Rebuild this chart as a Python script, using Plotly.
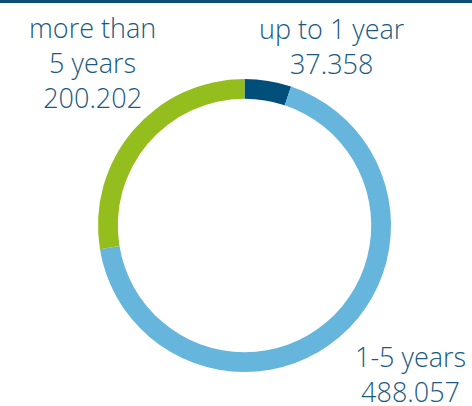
import plotly.graph_objects as go

# Maturity buckets and amounts
categories = ["up to 1 year", "1-5 years", "more than 5 years"]
values = [37.358, 488.057, 200.202]
value_labels = ["37.358", "488.057", "200.202"]
colors = ["#004f7a", "#66b5dc", "#93be1e"]

W, H = 472, 406
text_color = "#1a5a80"

fig = go.Figure(
    go.Pie(
        labels=categories,
        values=values,
        sort=False,
        direction="clockwise",
        rotation=0,
        hole=0.865,
        marker=dict(colors=colors, line=dict(width=0)),
        textinfo="none",
        hoverinfo="label+value",
        domain=dict(x=[98 / W, 391 / W], y=[34 / H, 327 / H]),
        showlegend=False,
    )
)

# Label blocks: (text, center x px, middle y px)
label_specs = [
    ("up to 1 year<br>" + value_labels[0], 332, 46),
    ("1-5 years<br>" + value_labels[1], 410, 374),
    ("more than<br>5 years<br>" + value_labels[2], 92, 62),
]
for text, cx, cy in label_specs:
    fig.add_annotation(
        text=text,
        x=cx / W,
        y=1 - cy / H,
        xref="paper",
        yref="paper",
        xanchor="center",
        yanchor="middle",
        showarrow=False,
        align="center",
        borderpad=0,
        font=dict(family="Open Sans", size=27, weight=300, color=text_color),
    )

# Thin rule across the top edge
fig.add_shape(
    type="rect", xref="paper", yref="paper",
    x0=0, x1=1, y0=1 - 3 / H, y1=1,
    fillcolor="#0b4f77", line=dict(width=0),
)

fig.update_layout(
    width=W,
    height=H,
    margin=dict(l=0, r=0, t=0, b=0),
    paper_bgcolor="white",
    plot_bgcolor="white",
)

fig.write_html("out.html")
